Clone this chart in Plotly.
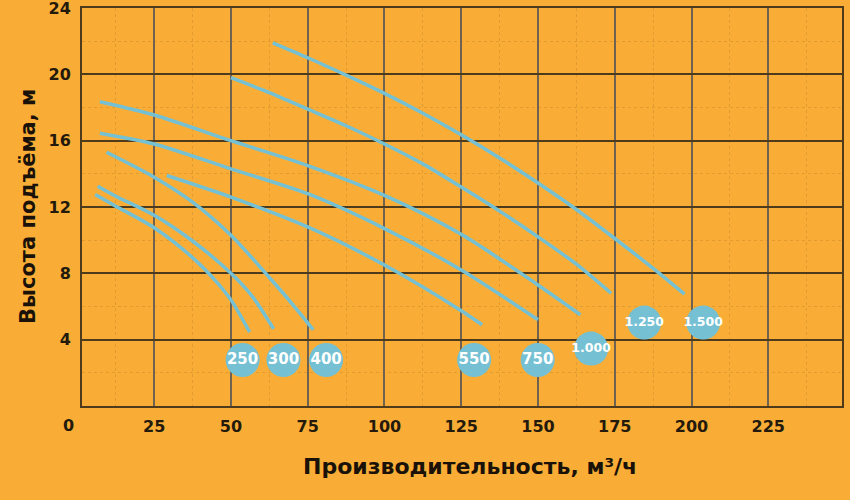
import plotly.graph_objects as go

# pump curves: flow (m3/h) vs head (m)
x_250 = [5.8, 12.5, 25, 37.5, 45, 50, 56.1]
y_250 = [12.75, 12.05, 10.75, 8.95, 7.55, 6.4, 4.45]

x_300 = [6.6, 12.5, 25, 37.5, 50, 57, 63.9]
y_300 = [13.25, 12.65, 11.5, 9.95, 8.0, 6.6, 4.65]

x_400 = [9.5, 25, 37.5, 50, 62.5, 70, 76.8]
y_400 = [15.3, 13.8, 12.3, 10.3, 7.75, 6.15, 4.6]

x_550 = [29.1, 50, 75, 100, 125, 131.8]
y_550 = [13.9, 12.6, 10.8, 8.5, 5.75, 4.9]

x_750 = [7.3, 25, 50, 75, 100, 125, 150]
y_750 = [16.45, 15.8, 14.3, 12.8, 10.7, 8.2, 5.2]

x_1000 = [7.3, 25, 50, 75, 100, 125, 150, 163.8]
y_1000 = [18.35, 17.55, 16.0, 14.5, 12.7, 10.35, 7.3, 5.5]

x_1250 = [50, 62.5, 75, 87.5, 100, 112.5, 125, 137.5, 150, 162.5, 173.8]
y_1250 = [19.8, 18.9, 17.9, 16.9, 15.8, 14.6, 13.2, 11.75, 10.2, 8.55, 6.8]

x_1500 = [63.6, 75, 87.5, 100, 112.5, 125, 137.5, 150, 162.5, 175, 187.5, 197.7]
y_1500 = [21.9, 21.0, 19.95, 18.85, 17.65, 16.35, 14.95, 13.45, 11.85, 10.1, 8.3, 6.75]

curves = [
    (x_250, y_250), (x_300, y_300), (x_400, y_400), (x_550, y_550),
    (x_750, y_750), (x_1000, y_1000), (x_1250, y_1250), (x_1500, y_1500),
]

# model badges
badge_labels = ["250", "300", "400", "550", "750", "1.000", "1.250", "1.500"]
badge_x = [53.8, 67.1, 81.0, 129.2, 149.9, 167.3, 184.6, 203.8]
badge_y = [2.77, 2.77, 2.77, 2.77, 2.77, 3.46, 5.03, 5.03]
badge_font = [15, 15, 15, 15, 15, 12.5, 12.5, 12.5]

x_ticks = [25, 50, 75, 100, 125, 150, 175, 200, 225]
y_ticks = [4, 8, 12, 16, 20, 24]

bg = "#F9AD36"
blue = "#75C1D3"
ink = "#231a0c"
minor_grid = "rgba(160,105,30,0.25)"

fig = go.Figure()

for cx, cy in curves:
    fig.add_trace(go.Scatter(
        x=cx, y=cy, mode="lines",
        line=dict(color=blue, width=3.5, shape="spline", smoothing=0.8),
        hoverinfo="skip",
    ))

fig.add_trace(go.Scatter(
    x=badge_x, y=badge_y, mode="markers+text",
    marker=dict(size=34, color=blue, line=dict(width=0)),
    text=badge_labels, textposition="middle center",
    textfont=dict(color="white", size=badge_font, family="DejaVu Sans", weight="bold"),
    cliponaxis=False, hoverinfo="skip",
))

fig.update_layout(
    width=850, height=500,
    margin=dict(l=82, r=8, t=8, b=94),
    paper_bgcolor=bg, plot_bgcolor=bg,
    showlegend=False,
    font=dict(family="DejaVu Sans", color=ink),
    annotations=[
        dict(text="0", x=-0.018, y=-0.05, xref="paper", yref="paper",
             xanchor="center", yanchor="middle", showarrow=False,
             font=dict(size=16, weight="bold", color=ink)),
        dict(text="Производительность, м³/ч", x=0.5105, y=-0.151,
             xref="paper", yref="paper", xanchor="center", yanchor="middle",
             showarrow=False, font=dict(size=22, weight="bold", color="#1a1208")),
        dict(text="Высота подъёма, м", x=-0.071, y=0.5, textangle=-90,
             xref="paper", yref="paper", xanchor="center", yanchor="middle",
             showarrow=False, font=dict(size=21, weight="bold", color="#1a1208")),
    ],
)

fig.update_xaxes(
    range=[1.5, 249], tickvals=x_ticks, ticks="", automargin=False,
    ticklabelstandoff=5,
    tickfont=dict(size=16, weight="bold", color=ink),
    showgrid=True, gridcolor="#6f6250", gridwidth=2,
    showline=True, linecolor="#4d3b1c", linewidth=2, mirror=True,
    zeroline=False,
    minor=dict(tickvals=[12.5, 37.5, 62.5, 87.5, 112.5, 137.5, 162.5, 187.5, 212.5, 237.5],
               showgrid=True, gridcolor=minor_grid, griddash="dot", gridwidth=1),
)
fig.update_yaxes(
    range=[0, 24], tickvals=y_ticks, ticks="", automargin=False,
    ticklabelstandoff=6, ticklabeloverflow="allow",
    tickfont=dict(size=16, weight="bold", color=ink),
    showgrid=True, gridcolor="#4d3b1c", gridwidth=2,
    showline=True, linecolor="#4d3b1c", linewidth=2, mirror=True,
    zeroline=False,
    minor=dict(tickvals=[2, 6, 10, 14, 18, 22],
               showgrid=True, gridcolor=minor_grid, griddash="dot", gridwidth=1),
)

# the page body has an 8px default margin; drop it so the chart fills the window
fig.write_html("out.html", config={"displayModeBar": False},
               post_script="document.body.style.margin='0';")
